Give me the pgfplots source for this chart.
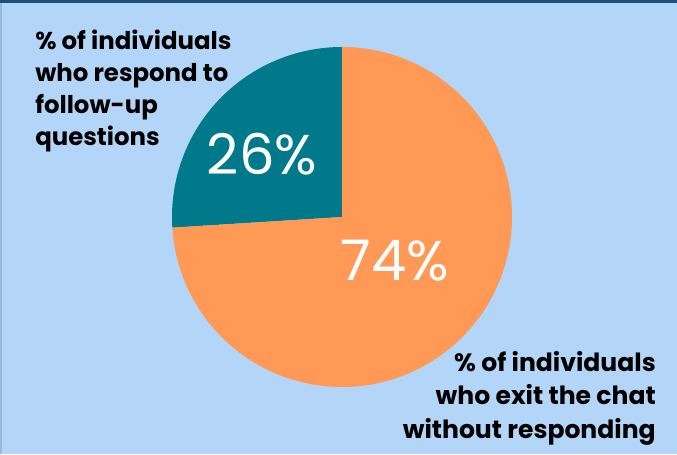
\documentclass[border=0pt]{standalone}
\usepackage{pgfplots}
\usepackage{pgfplotstable}
\pgfplotsset{compat=1.18}
\usepackage{fontspec}
\setmainfont{Poppins}
\definecolor{bgc}{HTML}{B3D5F7}
\definecolor{topbar}{HTML}{1B4F7E}
\definecolor{tealc}{HTML}{007A8B}
\definecolor{orng}{HTML}{FF9955}
\pgfplotstableread{
label share
respond 26
exit 74
}\piedata
\begin{document}
\begin{tikzpicture}[x=0.75pt,y=0.75pt]
\pgfplotstablegetelem{0}{share}\of\piedata \let\shareA\pgfplotsretval
\useasboundingbox (0,0) rectangle (677,454);
\fill[bgc] (0,0) rectangle (677,454);
\fill[topbar] (0,451) rectangle (677,454);
\fill[bgc!80!topbar] (0,0) rectangle (1.5,451);
\begin{axis}[at={(0,0)}, anchor=south west, scale only axis,
  width=507.75pt, height=340.5pt, xmin=0, xmax=677, ymin=0, ymax=454,
  hide axis, clip=false]
\addplot[draw=none, fill=tealc, domain=90:90+3.6*\shareA, samples=150]
  ({342+170*cos(x)},{237+170*sin(x)}) -- (axis cs:342,237) -- cycle;
\addplot[draw=none, fill=orng, domain=90+3.6*\shareA:450, samples=300]
  ({342+170*cos(x)},{237+170*sin(x)}) -- (axis cs:342,237) -- cycle;
\node[anchor=north west, align=left, inner sep=0pt,
  font=\fontsize{18.3}{24}\selectfont\bfseries] at (axis cs:35,424)
  {\% of individuals\\who respond to\\follow-up\\questions};
\node[anchor=north east, align=right, inner sep=0pt,
  font=\fontsize{18.8}{25}\selectfont\bfseries] at (axis cs:656,103)
  {\% of individuals\\who exit the chat\\without responding};
\node[text=white, inner sep=0pt, font=\fontsize{42}{42}\selectfont] at (axis cs:262,300) {26\%};
\node[text=white, inner sep=0pt, font=\fontsize{42}{42}\selectfont] at (axis cs:395,193) {74\%};
\end{axis}
\end{tikzpicture}
\end{document}
